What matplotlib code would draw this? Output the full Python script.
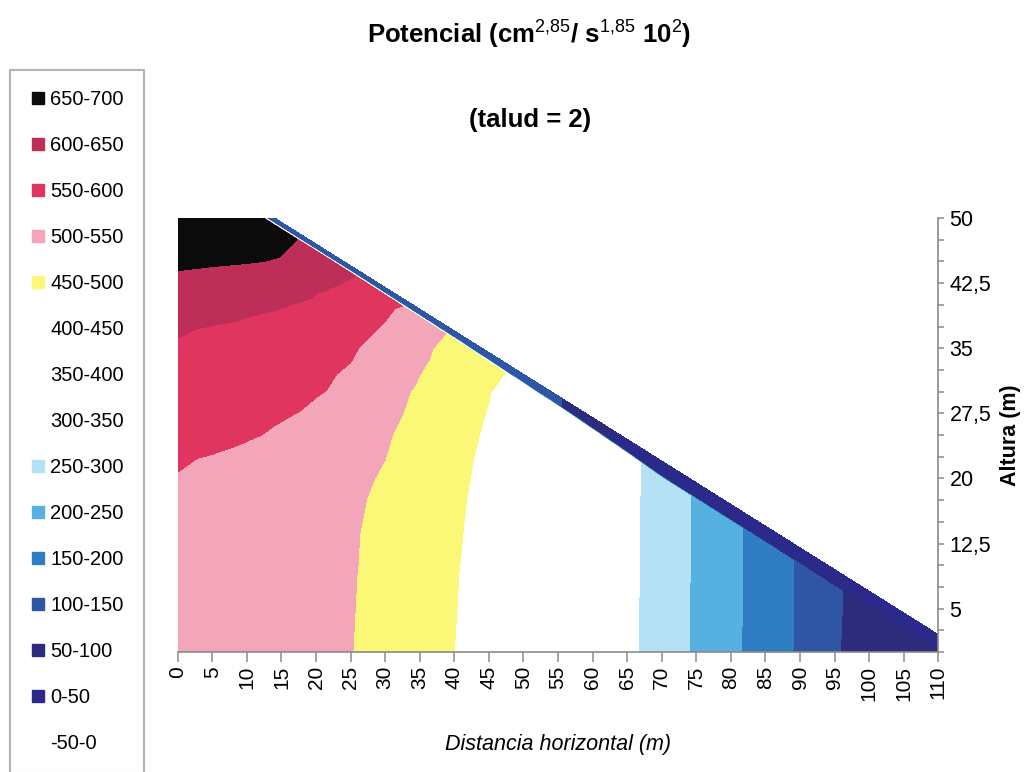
import numpy as np
import matplotlib
matplotlib.use("Agg")
import matplotlib.pyplot as plt
import matplotlib.tri as mtri
from matplotlib.lines import Line2D

plt.rcParams['font.family'] = ['Liberation Sans', 'DejaVu Sans']
plt.rcParams['mathtext.fontset'] = 'custom'
plt.rcParams['mathtext.rm'] = 'Liberation Sans'
plt.rcParams['mathtext.it'] = 'Liberation Sans:italic'
plt.rcParams['mathtext.bf'] = 'Liberation Sans:bold'

nan = np.nan

# slope geometry: crest at (14, 50), face inclined 2H:1V down to the toe at x = 110
crest_x, crest_y = 14.0, 50.0
talud = 2.0

# potential classes
levels = [-50, 0, 50, 100, 150, 200, 250, 300, 350, 400, 450, 500, 550, 600, 650, 700]
band_colors = ['#ffffff', '#2b2a8a', '#2c2b7c', '#2e56a4', '#2f7ec3', '#56b0e0', '#b4e2f4',
               '#ffffff', '#ffffff', '#ffffff', '#fbf877', '#f3a6b9', '#e0355f', '#bd2e58',
               '#0b0b0b']

# interior nodes, x every 5 m, y every 5 m (rows from y = 0 up to y = 50)
x_nodes = np.arange(0, 115, 5)
y_nodes = np.arange(0, 55, 5)
potential = np.array([
    [530, 524, 518, 512, 506, 501, 485, 468, 450, 422, 394, 366, 338, 310, 279, 243, 210, 177, 143, 103, 85, 70, 55],
    [534, 528, 521, 515, 508, 502, 487, 469, 452, 425, 397, 368, 340, 311, 278, 243, 211, 178, 144, 104, 86, nan, nan],
    [539, 532, 525, 517, 510, 503, 489, 472, 454, 428, 399, 370, 341, 312, 279, 244, 211, 178, 144, nan, nan, nan, nan],
    [543, 535, 528, 520, 512, 504, 492, 475, 457, 432, 402, 372, 342, 312, 279, 244, 211, nan, nan, nan, nan, nan, nan],
    [548, 540, 532, 523, 515, 507, 497, 479, 461, 437, 406, 375, 344, 313, 279, nan, nan, nan, nan, nan, nan, nan, nan],
    [562, 558, 553, 546, 532, 518, 504, 485, 466, 444, 411, 379, 347, nan, nan, nan, nan, nan, nan, nan, nan, nan, nan],
    [578, 572, 565, 559, 553, 542, 516, 494, 473, 452, 418, nan, nan, nan, nan, nan, nan, nan, nan, nan, nan, nan, nan],
    [595, 586, 578, 570, 562, 554, 537, 510, 484, nan, nan, nan, nan, nan, nan, nan, nan, nan, nan, nan, nan, nan, nan],
    [617, 613, 609, 603, 592, 575, 558, nan, nan, nan, nan, nan, nan, nan, nan, nan, nan, nan, nan, nan, nan, nan, nan],
    [659, 655, 652, 648, 625, nan, nan, nan, nan, nan, nan, nan, nan, nan, nan, nan, nan, nan, nan, nan, nan, nan, nan],
    [690, 685, 675, nan, nan, nan, nan, nan, nan, nan, nan, nan, nan, nan, nan, nan, nan, nan, nan, nan, nan, nan, nan],
])

# stations along the slope face (first one is the crest)
face_x = np.array([14, 20, 25, 30, 35, 40, 45, 50, 55, 60, 65, 70, 75, 80, 85, 90, 95, 100, 105, 110])
face_pot = np.array([140, 140, 135, 130, 125, 120, 118, 115, 105, 60, 40, 30, 25, 25, 25, 25, 25, 25, 25, 25])
# thickness of the surface layer at each station (m)
layer = np.array([0.6, 0.6, 0.6, 0.65, 0.7, 0.75, 0.85, 0.95, 1.05, 1.2, 1.4, 1.7, 1.7, 1.7, 1.7, 1.7, 1.7, 1.7, 1.7, 1.7])
# potential just under the surface layer
sub_pot = np.array([668, 640, 605, 570, 530, 490, 468, 430, 395, 350, 312, 280, 244, 211, 178, 144, 104, 86, 70, 55])
blend = 0.25   # transition between surface layer and body (m)

xticks = np.arange(0, 115, 5)
yticks_major = [5, 12.5, 20, 27.5, 35, 42.5, 50]
yticks_minor = np.arange(0, 52.5, 2.5)

# node rows parallel to the face
face_y = crest_y - (face_x - crest_x) / talud


def offset_row(depth):
    xs = face_x.astype(float).copy()
    ys = face_y - depth
    xs[0] = crest_x - depth[0] * talud
    ys[0] = crest_y
    return xs, ys


skin_x, skin_y = offset_row(layer)
sub_x, sub_y = offset_row(layer + blend)

X, Y = np.meshgrid(x_nodes, y_nodes)
inside = ~np.isnan(potential)
body_x = np.concatenate([X[inside], sub_x]).astype(float)
body_y = np.concatenate([Y[inside], sub_y]).astype(float)
px = np.concatenate([body_x, skin_x, face_x]).astype(float)
py = np.concatenate([body_y, skin_y, face_y]).astype(float)
pz = np.concatenate([potential[inside], sub_pot, face_pot, face_pot]).astype(float)


def signed_area(t):
    a, b, c = t
    return 0.5 * ((px[b] - px[a]) * (py[c] - py[a]) - (px[c] - px[a]) * (py[b] - py[a]))


# Delaunay for the body (kept below the sub-layer row), then strips up to the face
body = mtri.Triangulation(body_x, body_y)
tris = []
for t in body.triangles:
    cx, cy = px[t].mean(), py[t].mean()
    if abs(signed_area(t)) > 1e-6 and cy <= np.interp(cx, sub_x, sub_y) + 1e-9:
        tris.append(list(t))
n = len(face_x)
s0, k0, f0 = len(body_x) - n, len(body_x), len(body_x) + n
for lo, hi in [(s0, k0), (k0, f0)]:
    for i in range(n - 1):
        tris.append([lo + i, lo + i + 1, hi + i])
        tris.append([hi + i, lo + i + 1, hi + i + 1])
tris = [t if signed_area(t) > 0 else [t[0], t[2], t[1]] for t in tris]
triang = mtri.Triangulation(px, py, np.array(tris))

edges = list(levels)
edges[0], edges[-1] = -1e4, 1e4

fig = plt.figure(figsize=(10.28, 7.72), dpi=100)
ax = fig.add_axes([0.1729, 0.1554, 0.7399, 0.5622])

ax.tricontourf(triang, pz, levels=edges, colors=band_colors)

ax.set_xlim(0, 110)
ax.set_ylim(0, 50)

for side in ['left', 'top']:
    ax.spines[side].set_visible(False)
for side in ['bottom', 'right']:
    ax.spines[side].set_color('#8a8a8a')
    ax.spines[side].set_linewidth(1.2)

ax.set_xticks(xticks)
ax.set_xticklabels([str(v) for v in xticks], rotation=90, fontsize=15)
ax.tick_params(axis='x', length=7, width=1.1, color='#8a8a8a', pad=3)

ax.yaxis.tick_right()
ax.set_yticks(yticks_major)
ax.set_yticks(yticks_minor, minor=True)
ax.set_yticklabels([f"{v:g}".replace('.', ',') for v in yticks_major], fontsize=15.5)
ax.tick_params(axis='y', which='both', length=4, width=1.1, color='#8a8a8a', pad=4)

ax.set_xlabel('Distancia horizontal (m)', fontsize=15.5, style='italic', labelpad=24)
ax.yaxis.set_label_position('right')
ax.set_ylabel('Altura (m)', fontsize=15.5, fontweight='bold', labelpad=6)

fig.text(0.515, 0.955, r'Potencial (cm$^{2{,}85}$/ s$^{1{,}85}$ 10$^{2}$)',
         ha='center', va='center', fontsize=18.5, fontweight='bold')
fig.text(0.516, 0.845, '(talud = 2)', ha='center', va='center', fontsize=18.5, fontweight='bold')

# legend, highest class on top
handles, labels = [], []
for i in range(len(band_colors) - 1, -1, -1):
    handles.append(Line2D([], [], linestyle='none', marker='s', markersize=8,
                          markerfacecolor=band_colors[i], markeredgecolor=band_colors[i]))
    labels.append(f"{levels[i]}-{levels[i + 1]}")
leg = fig.legend(handles, labels, loc='upper left', bbox_to_anchor=(10 / 1028, 1 - 70 / 772),
                 bbox_transform=fig.transFigure, borderaxespad=0, frameon=True, fancybox=False,
                 edgecolor='#a0a0a0', fontsize=14.5, handlelength=0.8, handletextpad=0.2,
                 borderpad=1.0, labelspacing=1.34)
leg.get_frame().set_linewidth(1.5)

fig.savefig('out.png', dpi=100)
